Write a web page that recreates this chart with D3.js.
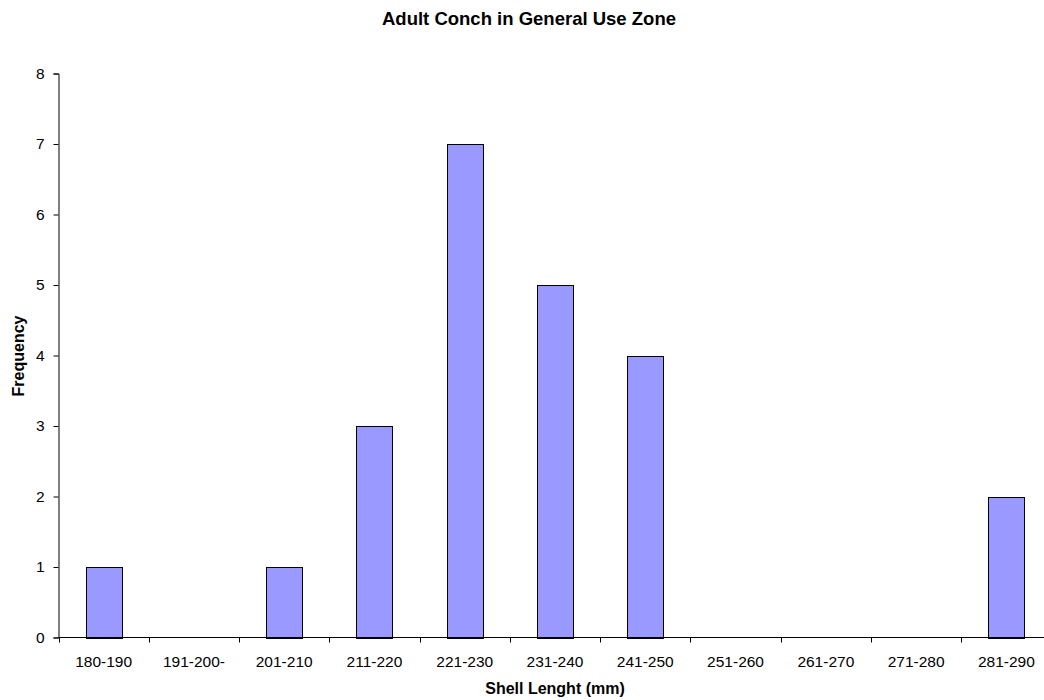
<!DOCTYPE html>
<html>
<head>
<meta charset="utf-8">
<script src="https://cdn.jsdelivr.net/npm/d3@7"></script>
<style>
body{margin:0;background:#fff;}
text{font-family:"Liberation Sans",Arial,sans-serif;}
</style>
</head>
<body>
<svg id="chart" width="1044" height="700"></svg>
<script>
const categories = ["180-190","191-200-","201-210","211-220","221-230","231-240","241-250","251-260","261-270","271-280","281-290"];
const frequency = [1,0,1,3,7,5,4,0,0,0,2];
const yTicks = [0,1,2,3,4,5,6,7,8];

(function(){
const svg = d3.select("#chart");
const mLeft = 58.5, mRight = 1051.5, mTop = 73.5, mBottom = 637.5;
const FONT = "Liberation Sans, Arial, sans-serif";

const x = d3.scaleBand().domain(categories).range([mLeft, mRight]).paddingInner(0.6).paddingOuter(0.3);
const y = d3.scaleLinear().domain([0,8]).range([mBottom, mTop]);

const data = categories.map((c,i)=>({c, v:frequency[i]}));

svg.selectAll("rect.bar").data(data.filter(d=>d.v>0)).enter().append("rect")
  .attr("class","bar")
  .attr("x", d=>Math.round(x(d.c))+0.5)
  .attr("y", d=>Math.round(y(d.v))+0.5)
  .attr("width", Math.round(x.bandwidth()))
  .attr("height", d=>Math.round(y(0))-Math.round(y(d.v)))
  .attr("fill","#9999FF")
  .attr("stroke","#000")
  .attr("stroke-width",1);

// Y axis
const yAxis = d3.axisLeft(y).tickValues(yTicks).tickSize(5).tickPadding(9);
const gy = svg.append("g").attr("transform",`translate(${mLeft},0)`).call(yAxis);
gy.attr("font-size",null).attr("font-family",null);
gy.select(".domain").attr("stroke","#000");
gy.selectAll(".tick line").attr("stroke","#000");
gy.selectAll("text").attr("font-size","15.5px").attr("fill","#000").attr("font-family",FONT);

// X axis: ticks at band boundaries
const step = x.step();
const boundaries = d3.range(categories.length+1).map(i=>mLeft + i*step);
const gx = svg.append("g");
gx.append("line").attr("x1",mLeft).attr("x2",mRight).attr("y1",mBottom).attr("y2",mBottom).attr("stroke","#000");
gx.selectAll("line.tk").data(boundaries).enter().append("line")
  .attr("class","tk")
  .attr("x1",d=>Math.round(d)+0.5).attr("x2",d=>Math.round(d)+0.5)
  .attr("y1",mBottom).attr("y2",mBottom+5).attr("stroke","#000");
const xAxis = d3.axisBottom(x).tickSize(0).tickPadding(18);
const gxl = svg.append("g").attr("transform",`translate(0,${mBottom})`).call(xAxis);
gxl.attr("font-size",null).attr("font-family",null);
gxl.select(".domain").remove();
gxl.selectAll("text").attr("font-size","15.5px").attr("fill","#000").attr("font-family",FONT);

// Title
svg.append("text").attr("x",529).attr("y",25).attr("text-anchor","middle")
  .attr("font-size","18.5px").attr("font-weight","bold").text("Adult Conch in General Use Zone");
// X title
svg.append("text").attr("x",555).attr("y",694).attr("text-anchor","middle")
  .attr("font-size","16px").attr("font-weight","bold").text("Shell Lenght (mm)");
// Y title
svg.append("text").attr("transform","translate(24,356) rotate(-90)").attr("text-anchor","middle")
  .attr("font-size","16px").attr("font-weight","bold").text("Frequency");
})();
</script>
</body>
</html>
